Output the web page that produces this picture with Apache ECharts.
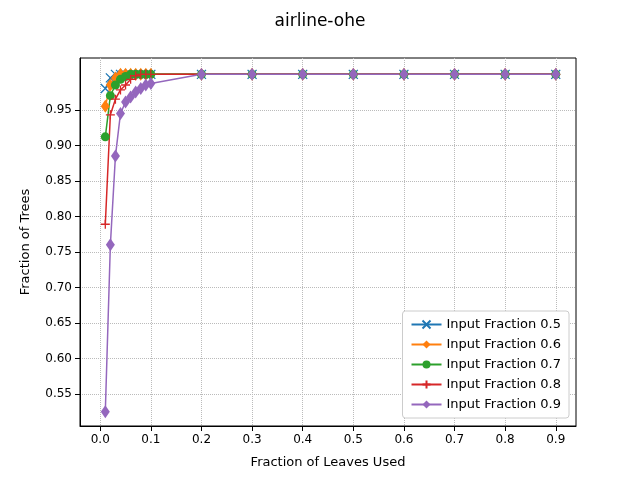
<!DOCTYPE html>
<html><head><meta charset="utf-8">
<script src="https://cdn.jsdelivr.net/npm/echarts@6/dist/echarts.min.js"></script>
<style>body{margin:0}#c{width:640px;height:480px}</style>
</head><body><div id="c"></div>
<script>
var xs = [0.01,0.02,0.03,0.04,0.05,0.06,0.07,0.08,0.09,0.1,0.2,0.3,0.4,0.5,0.6,0.7,0.8,0.9];
var f05 = [0.98,0.995,1,1,1,1,1,1,1,1,1,1,1,1,1,1,1,1];
var f06 = [0.955,0.985,0.995,1,1,1,1,1,1,1,1,1,1,1,1,1,1,1];
var f07 = [0.912,0.97,0.985,0.993,0.997,1,1,1,1,1,1,1,1,1,1,1,1,1];
var f08 = [0.789,0.943,0.965,0.978,0.985,0.993,0.998,1,1,1,1,1,1,1,1,1,1,1];
var f09 = [0.525,0.76,0.885,0.945,0.961,0.968,0.975,0.98,0.985,0.987,1,1,1,1,1,1,1,1];
var names = ['Input Fraction 0.5','Input Fraction 0.6','Input Fraction 0.7','Input Fraction 0.8','Input Fraction 0.9'];
var colors = ['#1f77b4','#ff7f0e','#2ca02c','#d62728','#9467bd'];
var xTicks = [0,0.1,0.2,0.3,0.4,0.5,0.6,0.7,0.8,0.9];
var yTicks = [0.55,0.6,0.65,0.7,0.75,0.8,0.85,0.9,0.95];

var crossX = 'path://M0,0L10,10M10,0L0,10';
var plus = 'path://M5,0L5,10M0,5L10,5';
var diamond = 'path://M5,0L8,5L5,10L2,5Z';
var syms = [crossX, diamond, 'circle', plus, diamond];
var sizes = [[9,9],[9,13],[9,9],[9,9],[9,13]];
var all = [f05,f06,f07,f08,f09];

var series = all.map(function (d, i) {
    return {
        name: names[i],
        type: 'line',
        data: xs.map(function (x, j) { return [x, d[j]]; }),
        symbol: syms[i],
        symbolSize: sizes[i],
        showAllSymbol: true,
        itemStyle: {color: colors[i], borderColor: colors[i], borderWidth: (i === 0 || i === 3) ? 1.3 : 0},
        lineStyle: {width: 1.5, color: colors[i]}
    };
});

var chart = echarts.init(document.getElementById('c'));
chart.setOption({
    animation: false,
    textStyle: {fontFamily: 'DejaVu Sans'},
    title: {text: 'airline-ohe', left: 'center', top: 8, textStyle: {fontSize: 17, fontWeight: 'normal', color: '#000'}},
    grid: {left: 80, right: 64, top: 58, bottom: 54, show: true, borderColor: '#000', borderWidth: 1},
    legend: {
        orient: 'vertical', right: 71, bottom: 62, data: names,
        backgroundColor: '#fff', borderColor: '#ccc', borderWidth: 1, borderRadius: 3,
        padding: [7, 8], itemGap: 7, itemWidth: 30, itemHeight: 10,
        textStyle: {fontSize: 13, color: '#000'}
    },
    xAxis: {
        type: 'value', min: -0.04, max: 0.94,
        name: 'Fraction of Leaves Used', nameLocation: 'middle', nameGap: 30,
        nameTextStyle: {fontSize: 13, color: '#000'},
        axisLine: {onZero: false, lineStyle: {color: '#000'}},
        axisTick: {show: true, customValues: xTicks, lineStyle: {color: '#000'}},
        axisLabel: {customValues: xTicks, color: '#000', fontSize: 12, formatter: function (v) { return v === 0 ? '0.0' : String(v); }},
        splitLine: {show: true, lineStyle: {color: '#bbb', type: 'dotted'}}
    },
    yAxis: {
        type: 'value', min: 0.505, max: 1.023,
        name: 'Fraction of Trees', nameLocation: 'middle', nameGap: 48,
        nameTextStyle: {fontSize: 13, color: '#000'},
        axisLine: {show: true, onZero: false, lineStyle: {color: '#000'}},
        axisTick: {show: true, customValues: yTicks, lineStyle: {color: '#000'}},
        axisLabel: {customValues: yTicks, color: '#000', fontSize: 12, formatter: function (v) { return v.toFixed(2); }},
        splitLine: {show: true, lineStyle: {color: '#bbb', type: 'dotted'}}
    },
    series: series
});
</script>
</body></html>
